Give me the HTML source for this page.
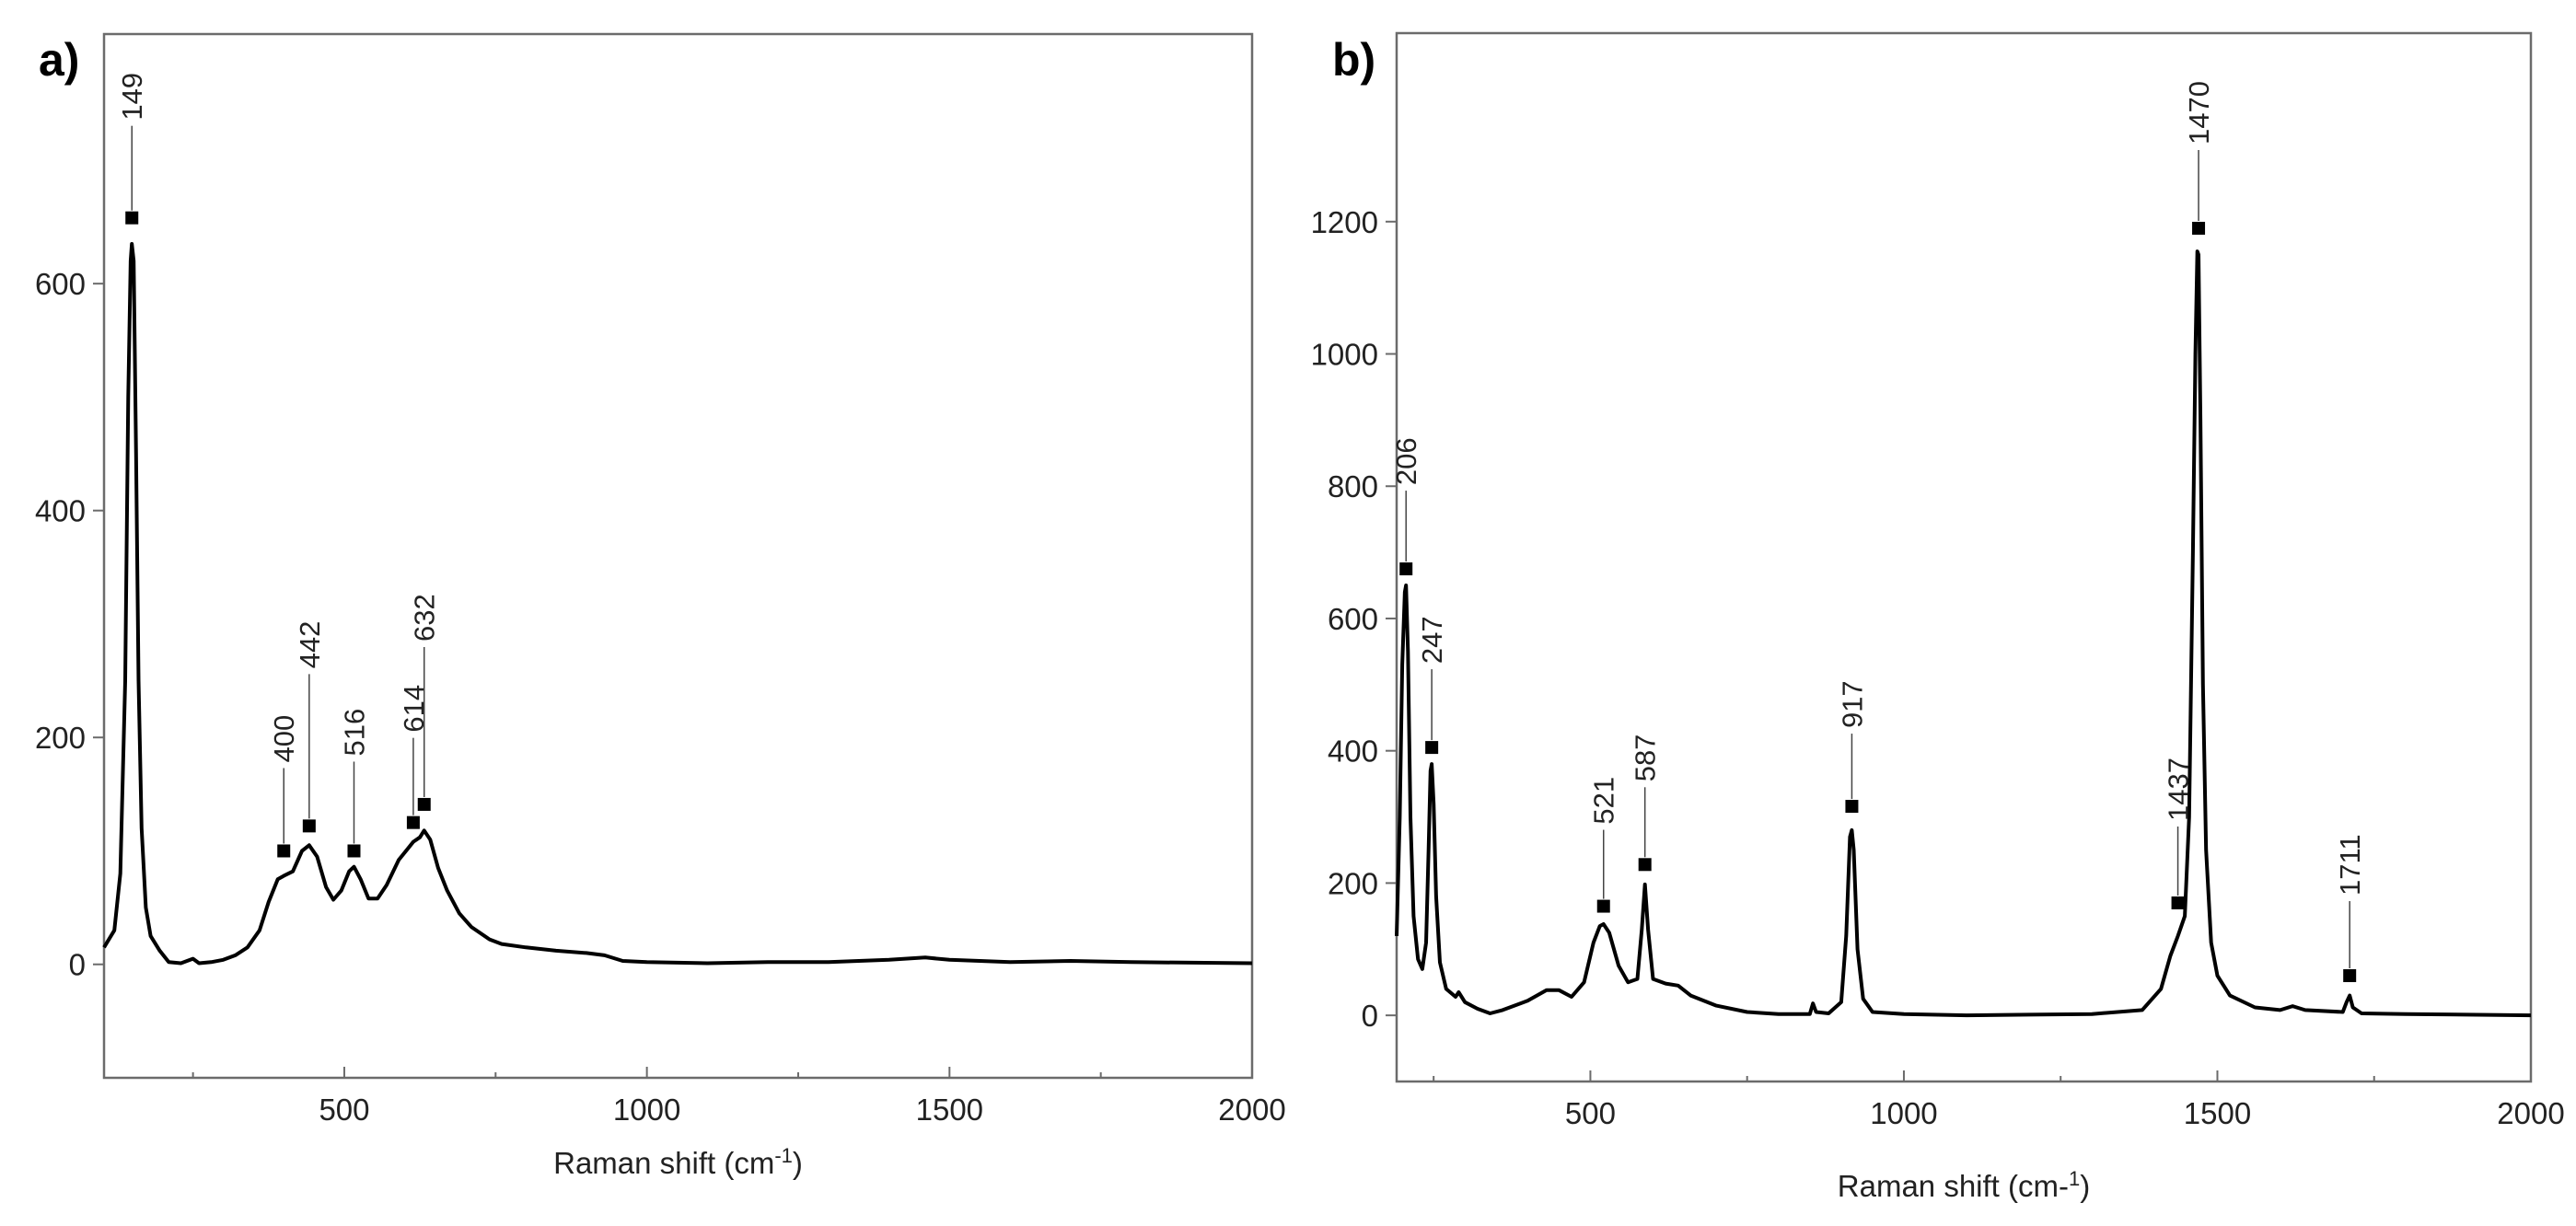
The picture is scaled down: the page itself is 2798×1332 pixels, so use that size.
<!DOCTYPE html>
<html><head><meta charset="utf-8">
<style>
html,body{margin:0;padding:0;background:#fff;}
svg{display:block;font-family:"Liberation Sans",Arial,sans-serif;}
</style></head>
<body>
<svg id="fig" width="2798" height="1332" viewBox="0 0 2798 1332" xmlns="http://www.w3.org/2000/svg">
<g id="pa"></g>
<g id="pb"></g>
</svg>
<script>
// ---- Panel a data ----
const aWavenumbers = [103,120,130,138,143,147,149,152,156,160,165,172,180,195,210,230,250,260,280,300,320,340,360,375,390,400,415,430,442,455,470,482,495,508,516,527,540,555,570,590,605,614,625,632,642,655,670,690,710,740,760,800,850,900,930,960,1000,1100,1200,1300,1400,1460,1500,1600,1700,1800,2000];
const aIntensity   = [15,30,80,250,500,620,635,620,450,250,120,50,25,12,2,1,5,1,2,4,8,15,30,55,75,78,82,100,105,95,68,57,65,82,86,75,58,58,70,92,102,108,112,118,110,85,65,45,33,22,18,15,12,10,8,3,2,1,2,2,4,6,4,2,3,2,1];
const aPeakPos   = [149,400,442,516,614,632];
const aPeakMark  = [658,100,122,100,125,141];
const aXTicks = [500,1000,1500,2000];
const aYTicks = [0,200,400,600];

// ---- Panel b data ----
const bWavenumbers = [191,196,200,204,206,209,213,218,225,232,238,242,245,247,250,254,260,270,285,290,300,320,340,360,400,430,450,470,490,505,515,521,530,545,560,575,582,587,592,600,620,640,660,700,750,800,850,855,860,880,900,908,914,917,920,926,935,950,1000,1100,1200,1300,1380,1410,1425,1437,1448,1455,1461,1465,1468,1470,1473,1477,1482,1490,1500,1520,1560,1600,1620,1640,1700,1706,1711,1716,1730,1800,2000];
const bIntensity   = [120,300,530,640,650,550,300,150,85,70,110,250,370,380,320,180,80,40,28,35,20,10,3,8,22,38,38,28,50,110,135,138,125,75,50,55,130,198,130,55,48,45,30,15,5,2,2,18,5,3,20,120,270,280,250,100,25,5,2,0,1,2,8,40,90,120,150,300,700,1000,1155,1150,900,500,250,110,60,30,12,8,14,8,5,20,30,12,3,2,0];
const bPeakPos  = [206,247,521,587,917,1437,1470,1711];
const bPeakMark = [675,405,165,228,316,170,1190,60];
const bXTicks = [500,1000,1500,2000];
const bYTicks = [0,200,400,600,800,1000,1200];

// label offsets (layout, px above marker)
const aLabelGap = [106,96,171,103,98,177];
const bLabelGap = [91,91,89,90,85,89,91,87];

const NS="http://www.w3.org/2000/svg";
function mk(parent,tag,attrs,text){const e=document.createElementNS(NS,tag);for(const k in attrs)e.setAttribute(k,attrs[k]);if(text!==undefined)e.textContent=text;parent.appendChild(e);return e;}

function drawPanel(g,cfg,xs,ys,peaks,marks,gaps,xt,yt,letter){
  const sx=v=>cfg.L+(v-cfg.x0)/(cfg.x1-cfg.x0)*(cfg.R-cfg.L);
  const sy=v=>cfg.B-(v-cfg.y0)/(cfg.y1-cfg.y0)*(cfg.B-cfg.T);
  const fr=mk(g,'rect',{x:cfg.L,y:cfg.T,width:cfg.R-cfg.L,height:cfg.B-cfg.T,fill:'none',stroke:'#6b6b6b','stroke-width':2.5});
  
  
  for(let v=250; v<=cfg.x1; v+=250){
    if(v<cfg.x0) continue;
    const major=(v%500===0);
    const t=mk(g,'line',{x1:sx(v),x2:sx(v),y1:cfg.B,y2:cfg.B-(major?12:6),stroke:'#6b6b6b','stroke-width':2});
    
    
  }
  xt.forEach(v=>{
    const t=mk(g,'text',{x:sx(v),y:cfg.B+46,'text-anchor':'middle','font-size':33,fill:'#222'},String(v));
    
    
  });
  yt.forEach(v=>{
    const tk=mk(g,'line',{x1:cfg.L,x2:cfg.L-12,y1:sy(v),y2:sy(v),stroke:'#6b6b6b','stroke-width':2});
    
    
    const t=mk(g,'text',{x:cfg.L-20,y:sy(v)+12,'text-anchor':'end','font-size':33,fill:'#222'},String(v));
    
    
  });
  const at=mk(g,'text',{x:(cfg.L+cfg.R)/2,y:cfg.titleY,'text-anchor':'middle','font-size':33,fill:'#222'});
  
  
  at.appendChild(document.createTextNode('Raman shift (cm'));
  if(cfg.sup){mk(at,'tspan',{'baseline-shift':'super','font-size':22},'-1');}
  else{at.appendChild(document.createTextNode('-'));mk(at,'tspan',{'baseline-shift':'super','font-size':22},'1');}
  mk(at,'tspan',{},')');
  const pl=mk(g,'text',{x:cfg.letterX,y:82,'font-size':50,'font-weight':'bold',fill:'#000'},letter);
  
  
  let d='';
  xs.forEach((x,i)=>{d+=(i?'L':'M')+sx(x).toFixed(1)+' '+sy(ys[i]).toFixed(1);});
  const p=mk(g,'path',{d:d,fill:'none',stroke:'#000','stroke-width':4,'stroke-linejoin':'round'});
  
  
  peaks.forEach((pk,i)=>{
    const x=sx(pk), y=sy(marks[i]), gp=gaps[i];
    const m=mk(g,'rect',{x:x-7,y:y-7,width:14,height:14,fill:'#000'});
    
    
    const ln=mk(g,'line',{x1:x,x2:x,y1:y-8,y2:y-gp+6,stroke:'#444','stroke-width':1.5});
    
    
    const tx=mk(g,'text',{x:0,y:0,'font-size':31,fill:'#222',transform:`translate(${x+11},${y-gp}) rotate(-90)`},String(pk));
    
    
  });
}

drawPanel(document.getElementById('pa'),
  {L:113,R:1360,T:37,B:1171,x0:103,x1:2000,y0:-100,y1:820,titleY:1275,letterX:42,sup:true},
  aWavenumbers,aIntensity,aPeakPos,aPeakMark,aLabelGap,aXTicks,aYTicks,'a)');
drawPanel(document.getElementById('pb'),
  {L:1517,R:2749,T:36,B:1175,x0:191,x1:2000,y0:-100,y1:1485,titleY:1300,letterX:1447,sup:false},
  bWavenumbers,bIntensity,bPeakPos,bPeakMark,bLabelGap,bXTicks,bYTicks,'b)');
</script>
</body></html>
